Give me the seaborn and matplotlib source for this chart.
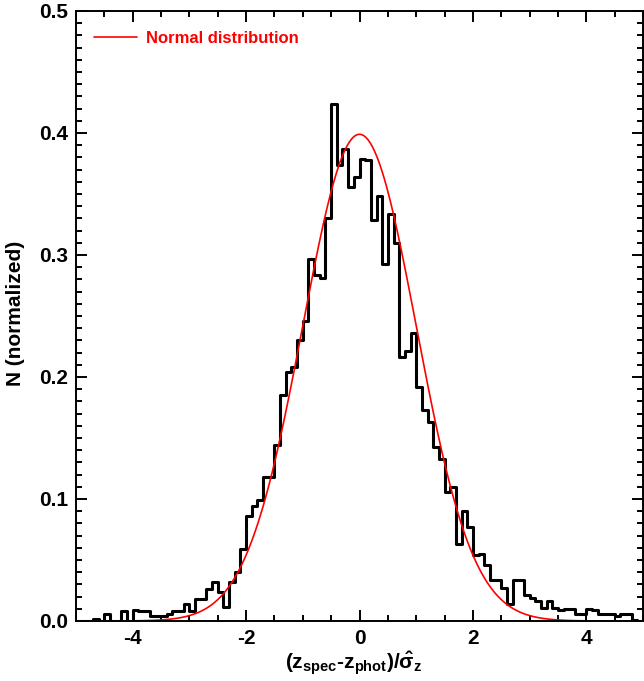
import numpy as np
import pandas as pd
import matplotlib
matplotlib.use("Agg")
import matplotlib.pyplot as plt
import seaborn as sns
from matplotlib.ticker import MultipleLocator, FormatStrFormatter

# histogram of (z_spec - z_phot)/sigma, bins of 0.1 from -5 to 5
bin_lo = -5.0
bin_width = 0.1
heights = [
    0.000, 0.000, 0.000, 0.002, 0.000, 0.006, 0.000, 0.000, 0.008, 0.000,   # -5.0 .. -4.1
    0.009, 0.008, 0.008, 0.004, 0.004, 0.004, 0.006, 0.008, 0.008, 0.014,   # -4.0 .. -3.1
    0.008, 0.018, 0.018, 0.026, 0.032, 0.024, 0.0115, 0.032, 0.040, 0.059,  # -3.0 .. -2.1
    0.086, 0.094, 0.099, 0.118, 0.118, 0.144, 0.185, 0.204, 0.2085, 0.230,  # -2.0 .. -1.1
    0.246, 0.297, 0.284, 0.281, 0.330, 0.424, 0.374, 0.387, 0.356, 0.364,   # -1.0 .. -0.1
    0.379, 0.378, 0.329, 0.348, 0.293, 0.334, 0.310, 0.216, 0.221, 0.236,   # 0.0 .. 0.9
    0.192, 0.173, 0.163, 0.143, 0.133, 0.106, 0.110, 0.063, 0.090, 0.077,   # 1.0 .. 1.9
    0.054, 0.055, 0.046, 0.034, 0.034, 0.027, 0.014, 0.034, 0.034, 0.021,   # 2.0 .. 2.9
    0.019, 0.016, 0.011, 0.016, 0.011, 0.009, 0.010, 0.010, 0.006, 0.006,   # 3.0 .. 3.9
    0.010, 0.009, 0.006, 0.006, 0.006, 0.004, 0.006, 0.006, 0.001, 0.000,   # 4.0 .. 4.9
]
x_ticks = [-4, -2, 0, 2, 4]
y_ticks = [0.0, 0.1, 0.2, 0.3, 0.4, 0.5]
norm_mu = 0.0
norm_sigma = 1.0

sns.set_style("ticks")
plt.rcParams['font.family'] = ['Liberation Sans', 'DejaVu Sans']
plt.rcParams['font.weight'] = 'bold'
plt.rcParams['axes.unicode_minus'] = False
plt.rcParams['mathtext.fontset'] = 'custom'
plt.rcParams['mathtext.rm'] = 'Liberation Sans:bold'
plt.rcParams['mathtext.it'] = 'Liberation Sans:bold'
plt.rcParams['mathtext.bf'] = 'Liberation Sans:bold'
plt.rcParams['mathtext.sf'] = 'Liberation Sans:bold'
# plain black like the original, not seaborn's dark grey
for key in ['text.color', 'axes.labelcolor', 'xtick.color', 'ytick.color', 'axes.edgecolor']:
    plt.rcParams[key] = 'black'

edges = [round(bin_lo + bin_width * i, 3) for i in range(len(heights) + 1)]
df = pd.DataFrame({'dz': [e + bin_width / 2 for e in edges[:-1]], 'n': heights})

# normal distribution curve
xs = np.linspace(edges[0], edges[-1], 501)
pdf = np.exp(-0.5 * ((xs - norm_mu) / norm_sigma) ** 2) / (norm_sigma * np.sqrt(2 * np.pi))

fig = plt.figure(figsize=(6.44, 6.81), dpi=100)
ax = fig.add_axes([76 / 644, 60 / 681, 567 / 644, 610 / 681])

sns.histplot(data=df, x='dz', weights='n', bins=edges, element='step', fill=False,
             color='black', linewidth=2.2, ax=ax)
sns.lineplot(x=xs, y=pdf, color='red', linewidth=1.2, label='Normal distribution', ax=ax)

ax.set_xlim(-5, 5)
ax.set_ylim(0, 0.5)
ax.set_xticks(x_ticks)
ax.set_yticks(y_ticks)
ax.yaxis.set_major_formatter(FormatStrFormatter('%.1f'))
ax.xaxis.set_minor_locator(MultipleLocator(0.5))
ax.yaxis.set_minor_locator(MultipleLocator(0.01))
ax.tick_params(which='both', direction='in', top=True, right=True, width=1.4,
               labelsize=15, color='black', labelcolor='black')
ax.tick_params(which='major', length=8, pad=5.5)
ax.tick_params(which='minor', length=4.3)
for s in ax.spines.values():
    s.set_linewidth(1.4)
    s.set_color('black')

ax.set_xlabel(r'(z$_{spec}$-z$_{phot}$)/$\hat{\sigma}_{z}$', fontsize=15, fontweight='bold', color='black')
ax.set_ylabel('N (normalized)', fontsize=15, fontweight='bold', color='black')
ax.xaxis.set_label_coords(0.49, -0.046)
ax.yaxis.set_label_coords(-0.09, 0.505)

leg = ax.legend(loc='upper left', bbox_to_anchor=(0.032, 0.967), frameon=False,
                borderpad=0, borderaxespad=0, handlelength=2.6, handletextpad=0.5,
                prop={'weight': 'bold', 'size': 12})
for t in leg.get_texts():
    t.set_color('red')

fig.savefig('out.png', dpi=100)
